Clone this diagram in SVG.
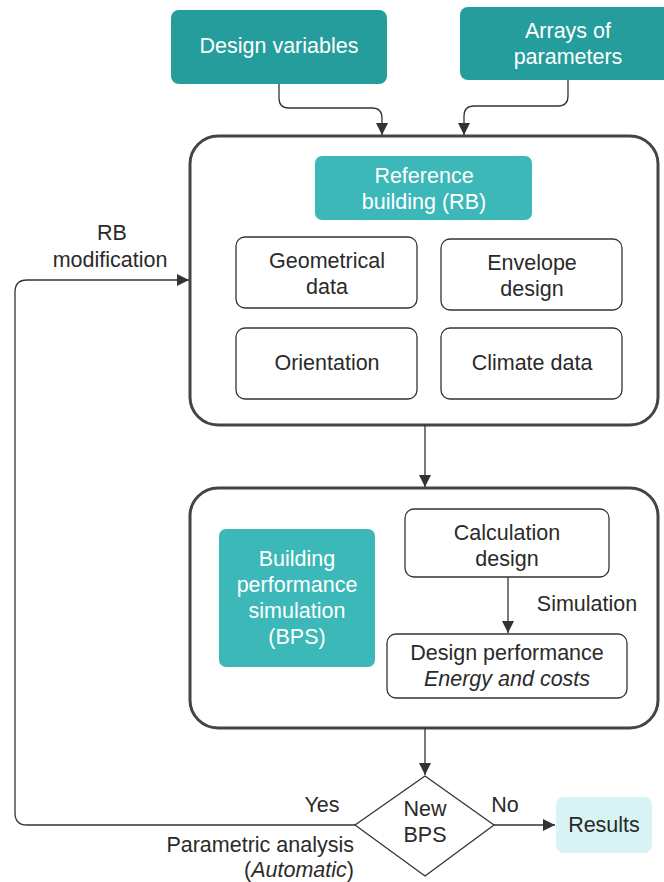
<svg xmlns="http://www.w3.org/2000/svg" width="664" height="882" viewBox="0 0 664 882">
  <defs>
    <marker id="arrow" viewBox="0 0 12 12" refX="12" refY="6" markerWidth="12" markerHeight="12" markerUnits="userSpaceOnUse" orient="auto">
      <path d="M0,0 L12,6 L0,12 Z" fill="#333"/>
    </marker>
  </defs>
  <style>
    text { font-family: "Liberation Sans", Arial, sans-serif; font-size: 21.5px; text-anchor: middle; }
    .dark { fill: #259d9d; }
    .mid { fill: #3db8b8; }
    .light { fill: #d8f3f3; }
    .onfill { fill: #ffffff; }
    .ink { fill: #2a2a2a; }
    .frame { fill: #ffffff; stroke: #444; stroke-width: 3; }
    .box { fill: #ffffff; stroke: #333; stroke-width: 1.3; }
    .link { fill: none; stroke: #333; stroke-width: 1.3; }
    .it { font-style: italic; }
  </style>

  <rect width="664" height="882" fill="#ffffff"/>

  <!-- inputs -->
  <g id="design-variables">
    <rect class="dark" x="171" y="10" width="216" height="74" rx="8"/>
    <text class="onfill" x="279" y="53">Design variables</text>
  </g>
  <g id="arrays-of-parameters">
    <rect class="dark" x="460" y="7" width="214" height="73" rx="8"/>
    <text class="onfill" x="568" y="38">Arrays of</text>
    <text class="onfill" x="568" y="64">parameters</text>
  </g>

  <!-- reference building container -->
  <g id="reference-building-frame">
    <rect class="frame" x="190" y="136" width="468" height="289" rx="28"/>
  </g>
  <g id="reference-building">
    <rect class="mid" x="315" y="156" width="217" height="64" rx="7"/>
    <text class="onfill" x="424" y="183">Reference</text>
    <text class="onfill" x="424" y="209">building (RB)</text>
  </g>
  <g id="geometrical-data">
    <rect class="box" x="236" y="237" width="181" height="71" rx="9"/>
    <text class="ink" x="327" y="268">Geometrical</text>
    <text class="ink" x="327" y="294">data</text>
  </g>
  <g id="envelope-design">
    <rect class="box" x="441" y="239" width="181" height="71" rx="9"/>
    <text class="ink" x="532" y="270">Envelope</text>
    <text class="ink" x="532" y="296">design</text>
  </g>
  <g id="orientation">
    <rect class="box" x="236" y="328" width="181" height="71" rx="9"/>
    <text class="ink" x="327" y="370">Orientation</text>
  </g>
  <g id="climate-data">
    <rect class="box" x="441" y="328" width="181" height="71" rx="9"/>
    <text class="ink" x="532" y="370">Climate data</text>
  </g>

  <!-- simulation container -->
  <g id="simulation-frame">
    <rect class="frame" x="190" y="488" width="468" height="240" rx="28"/>
  </g>
  <g id="bps">
    <rect class="mid" x="219" y="529" width="156" height="138" rx="7"/>
    <text class="onfill" x="297" y="566">Building</text>
    <text class="onfill" x="297" y="592">performance</text>
    <text class="onfill" x="297" y="618">simulation</text>
    <text class="onfill" x="297" y="644">(BPS)</text>
  </g>
  <g id="calculation-design">
    <rect class="box" x="405" y="509" width="204" height="68" rx="9"/>
    <text class="ink" x="507" y="540">Calculation</text>
    <text class="ink" x="507" y="566">design</text>
  </g>
  <g id="design-performance">
    <rect class="box" x="387" y="634" width="240" height="64" rx="9"/>
    <text class="ink" x="507" y="660">Design performance</text>
    <text class="ink it" x="507" y="686">Energy and costs</text>
  </g>

  <!-- decision and outcome -->
  <g id="new-bps">
    <path class="box" d="M425,776 L494,825 L425,876 L355,825 Z" stroke-linejoin="round"/>
    <text class="ink" x="425" y="816">New</text>
    <text class="ink" x="425" y="842">BPS</text>
  </g>
  <g id="results">
    <rect class="light" x="556" y="797" width="96" height="56" rx="8"/>
    <text class="ink" x="604" y="832">Results</text>
  </g>

  <!-- connectors -->
  <g id="connectors">
    <path class="link" d="M279,84 V98 Q279,108 289,108 H372 Q382,108 382,118 V135" marker-end="url(#arrow)"/>
    <path class="link" d="M568,80 V96 Q568,106 558,106 H474 Q464,106 464,116 V135" marker-end="url(#arrow)"/>
    <path class="link" d="M425,425 V487" marker-end="url(#arrow)"/>
    <path class="link" d="M508,577 V633" marker-end="url(#arrow)"/>
    <path class="link" d="M425,728 V775" marker-end="url(#arrow)"/>
    <path class="link" d="M494,825 H555" marker-end="url(#arrow)"/>
    <path class="link" d="M355,825 H27 Q15,825 15,813 V292 Q15,280 27,280 H189" marker-end="url(#arrow)"/>
  </g>

  <!-- connector labels -->
  <g id="labels">
    <text class="ink" x="587" y="611">Simulation</text>
    <text class="ink" x="112" y="240">RB</text>
    <text class="ink" x="110" y="267">modification</text>
    <text class="ink" x="322" y="812">Yes</text>
    <text class="ink" x="505" y="812">No</text>
    <text class="ink" x="354" y="852" style="text-anchor:end">Parametric analysis</text>
    <text class="ink" x="354" y="877" style="text-anchor:end">(<tspan class="it">Automatic</tspan>)</text>
  </g>
</svg>
